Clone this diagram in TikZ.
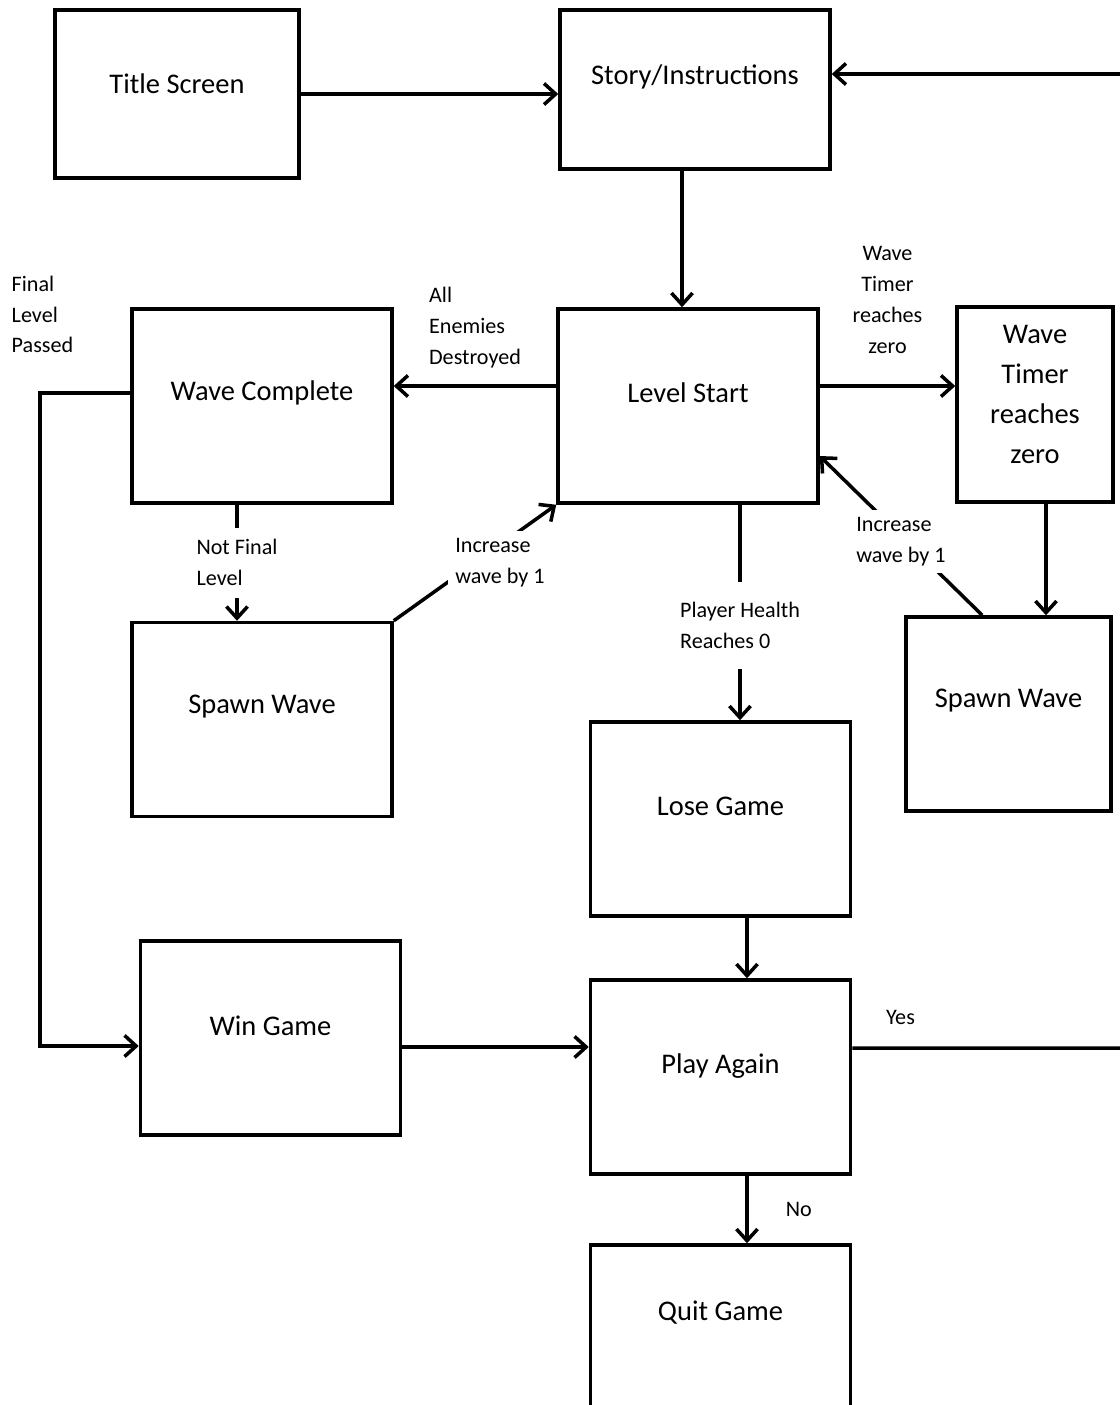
\documentclass[tikz,border=0pt]{standalone}
\usepackage{fontspec}
\setmainfont{Carlito}
\usetikzlibrary{arrows.meta}

\begin{document}
\begin{tikzpicture}[box/.style={rectangle, draw=black, line width=1pt, inner sep=0pt, minimum width=2.6cm, minimum height=1.94cm},
            txt/.style={font=\fontsize{8.1}{11.4}\selectfont, align=center, yshift=0.13cm},
            lbl/.style={font=\fontsize{6.3}{8.8}\selectfont, align=left, inner sep=2pt},
            arr/.style={line width=1pt, -{Straight Barb[length=3.3pt,width=6pt]}}]
            \useasboundingbox (0,0) rectangle (11.2,-14.05);

            \node[box, minimum width=2.44cm, minimum height=1.68cm, label={[txt, yshift=-0.03cm]center:Title Screen}] (ts) at (1.77,-0.94){};
            \node[box, minimum width=2.7cm, minimum height=1.59cm, label={[txt]center:Story/Instructions}] (si) at (6.95,-0.895){};
            \node[box, label={[txt]center:Level Start}] (ls) at (6.88,-4.06){};
            \node[box, label={[txt]center:Wave Complete}] (wc) at (2.62,-4.06){};
            \node[box, minimum width=1.56cm, minimum height=1.95cm, label={[txt, yshift=-0.03cm]center:Wave\\Timer\\reaches\\zero}] (wt) at (10.35,-4.045){};
            \node[box, label={[txt]center:Spawn Wave}] (sw1) at (2.62,-7.195){};
            \node[box, minimum width=2.05cm, label={[txt]center:Spawn Wave}] (sw2) at (10.085,-7.14){};
            \node[box, label={[txt]center:Lose Game}] (lg) at (7.205,-8.19){};
            \node[box, label={[txt, yshift=-0.01cm]center:Win Game}] (wg) at (2.705,-10.38){};
            \node[box, label={[txt, yshift=-0.02cm]center:Play Again}] (pa) at (7.205,-10.77){};
            \node[box, label={[txt, yshift=0.16cm]center:Quit Game}] (qg) at (7.205,-13.42){};

            \coordinate (back) at (11.2,-0.74);
            \coordinate (yes) at (11.2,-10.48);
            \node[lbl, anchor=north west] (fl) at (0.04,-2.68){Final\\Level\\Passed};

            \draw[arr] (ts.east) -- (si.west |- ts.east);
            \draw[arr] (back) -- (back -| si.east);
            \draw[arr] ([xshift=-0.13cm]si.south) coordinate (sib) -- (sib |- ls.north);

            \draw[arr] ([yshift=0.2cm]ls.west) coordinate (lsw) -- (lsw -| wc.east)
                node[lbl, midway, above=0.09cm]{All\\Enemies\\Destroyed};
            \draw[arr] ([yshift=0.2cm]ls.east) coordinate (lse) -- (lse -| wt.west)
                node[lbl, midway, above=0.24cm, align=center]{Wave\\Timer\\reaches\\zero};

            \draw[arr] ([xshift=-0.25cm]wc.south) coordinate (wcb) -- (wcb |- sw1.north)
                node[lbl, midway, fill=white, inner ysep=0.12cm]{Not Final\\Level};
            \draw[arr] (sw1.north east) -- (ls.south west)
                node[lbl, midway, xshift=0.25cm, fill=white]{Increase\\wave by 1};
            \draw[arr] ([xshift=0.78cm]sw2.north west) -- ([yshift=-0.5cm]ls.east)
                node[lbl, midway, yshift=-0.06cm, fill=white]{Increase\\wave by 1};
            \draw[arr] ([xshift=0.11cm]wt.south) coordinate (wtb) -- (wtb |- sw2.north);

            \draw[arr] ([xshift=0.52cm]ls.south) coordinate (lsb) -- (lsb |- lg.north)
                node[lbl, pos=0.56, fill=white, inner ysep=0.2cm]{Player Health\\Reaches 0};
            \draw[arr] ([yshift=0.13cm]wc.west) -- ++(-0.9,0) |- ([yshift=-0.08cm]wg.west);

            \draw[arr] ([xshift=0.265cm]lg.south) coordinate (lgb) -- (lgb |- pa.north);
            \draw[arr] ([yshift=-0.09cm]wg.east) coordinate (wge) -- (wge -| pa.west);
            \draw[line width=1pt] ([yshift=0.29cm]pa.east) -- (yes)
                node[lbl, pos=0.18, above=0.15cm]{Yes};
            \draw[arr] ([xshift=0.265cm]pa.south) coordinate (pab) -- (pab |- qg.north)
                node[lbl, midway, right=0.3cm]{No};
        \end{tikzpicture}
\end{document}
